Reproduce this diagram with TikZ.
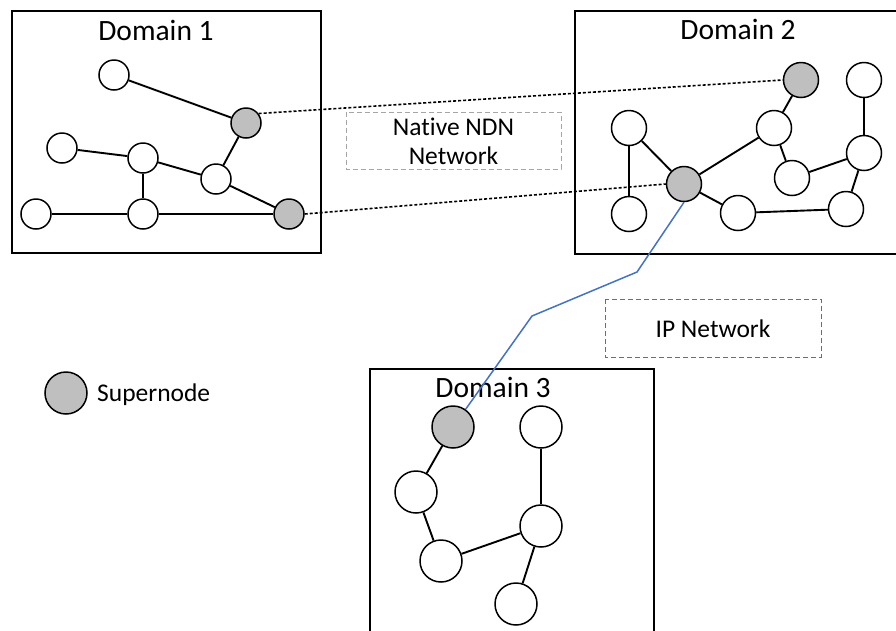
\documentclass[tikz,border=0pt]{standalone}
\usepackage{fontspec}
\setmainfont[Ligatures=NoCommon]{Carlito}
\definecolor{supergray}{HTML}{BFBFBF}
\definecolor{ipblue}{HTML}{4472C4}
\definecolor{ndngray}{HTML}{A6A6A6}
\begin{document}
\begin{tikzpicture}[x=1pt,y=-1pt,
  every node/.style={inner sep=0pt},
  host/.style={circle, draw, fill=white, line width=1.5pt},
  super/.style={host, fill=supergray},
  sm/.style={minimum size=30pt},
  md/.style={minimum size=35pt},
  lg/.style={minimum size=42pt},
  link/.style={line width=1.9pt},
  bridge/.style={line width=1.6pt, dash pattern=on 3pt off 2pt},
  domainbox/.style={draw, line width=1.6pt},
  domaintitle/.style={anchor=base, font=\fontsize{29.5}{35}\selectfont},
  tag/.style={font=\fontsize{25.5}{29}\selectfont},
  iplink/.style={ipblue, line width=1.5pt}
]
\useasboundingbox (0,0) rectangle (896,630);

% domain frames
\draw[domainbox] (12,11) rectangle (321,253);
\draw[domainbox] (575,11) rectangle (902,254);
\draw[domainbox] (370,369) rectangle (654,640);

% network type tags
\draw[ndngray, line width=1pt, dash pattern=on 5pt off 3pt] (346,112) rectangle (561,169);
\node[tag, align=center] (ndn) at (453.5,141) {Native NDN\\Network};
\draw[ipblue, line width=1pt, dash pattern=on 5pt off 3pt] (605,299) rectangle (821,357);
\node[tag, anchor=base] (ip) at (713,337) {IP Network};

% domain titles
\node[domaintitle] (t1) at (156,40) {Domain 1};
\node[domaintitle] (t2) at (738,39) {Domain 2};
\node[domaintitle] (t3) at (493,397) {Domain 3};

% Domain 1
\node[host, sm]  (a1) at (114,75) {};
\node[super, sm] (s1) at (246,123) {};
\node[host, sm]  (a2) at (62,148) {};
\node[host, sm]  (a3) at (143,158) {};
\node[host, sm]  (a4) at (216,179) {};
\node[host, sm]  (a5) at (36,214) {};
\node[host, sm]  (a6) at (143,214) {};
\node[super, sm] (s2) at (289,214) {};
\draw[link] (a1) -- (s1);
\draw[link] (s1) -- (a4);
\draw[link] (a2) -- (a3);
\draw[link] (a3) -- (a4);
\draw[link] (a3) -- (a6);
\draw[link] (a4) -- (s2);
\draw[link] (a5) -- (a6);
\draw[link] (a6) -- (s2);

% Domain 2
\node[super, md] (s3) at (801,80) {};
\node[host, md]  (b1) at (864,80) {};
\node[host, md]  (b2) at (629,128) {};
\node[host, md]  (b3) at (774,128) {};
\node[super, md] (s4) at (684,184) {};
\node[host, md]  (b4) at (792,178) {};
\node[host, md]  (b5) at (864,153) {};
\node[host, md]  (b6) at (629,214) {};
\node[host, md]  (b7) at (738,213) {};
\node[host, md]  (b8) at (846,209) {};
\draw[link] (s3) -- (b3);
\draw[link] (b1) -- (b5);
\draw[link] (b2) -- (b6);
\draw[link] (b2) -- (s4);
\draw[link] (s4) -- (b3);
\draw[link] (b3) -- (b4);
\draw[link] (b4) -- (b5);
\draw[link] (b5) -- (b8);
\draw[link] (s4) -- (b7);
\draw[link] (b7) -- (b8);

% Domain 3
\node[super, lg] (s5) at (453,427) {};
\node[host, lg]  (c1) at (541,427) {};
\node[host, lg]  (c2) at (416,492) {};
\node[host, lg]  (c3) at (541,526) {};
\node[host, lg]  (c4) at (441,561) {};
\node[host, lg]  (c5) at (516,604) {};
\draw[link] (s5) -- (c2);
\draw[link] (c2) -- (c4);
\draw[link] (c4) -- (c3);
\draw[link] (c1) -- (c3);
\draw[link] (c3) -- (c5);

% inter-domain links between supernodes
\draw[bridge] (s1.37) -- (s3.west);
\draw[bridge] (s2.east) -- (s4.west);
\coordinate (bendA) at (637,272);
\coordinate (bendB) at (532,316);
\draw[iplink] (s4.south) -- (bendA) -- (bendB) -- (s5);

% legend
\node[super, lg] (key) at (66,393) {};
\node[tag, anchor=base west] (keytext) at (97,401) {Supernode};
\end{tikzpicture}
\end{document}
